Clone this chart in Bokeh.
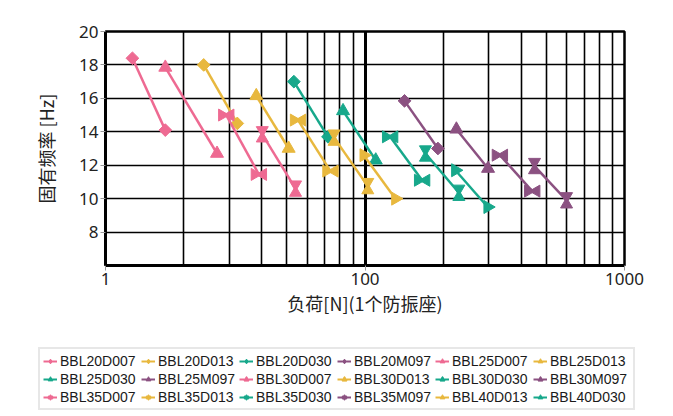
import math
from bokeh.plotting import figure
from bokeh.layouts import column
from bokeh.models import FixedTicker, Legend, LegendItem, Range1d
from bokeh.embed import file_html
from bokeh.resources import INLINE

# ---------------- data ----------------
names = ["BBL20D007", "BBL20D013", "BBL20D030", "BBL20M097",
         "BBL25D007", "BBL25D013", "BBL25D030", "BBL25M097",
         "BBL30D007", "BBL30D013", "BBL30D030", "BBL30M097",
         "BBL35D007", "BBL35D013", "BBL35D030", "BBL35M097",
         "BBL40D013", "BBL40D030"]
load_start = [12.7, 23.9, 53.2, 142.0,
              17.0, 38.1, 82.3, 225.0,
              29.2, 55.2, 125.0, 331.0,
              40.2, 76.0, 171.0, 450.0,
              98.9, 223.0]
load_end = [17.0, 32.2, 72.0, 191.0,
            26.9, 50.8, 110.0, 298.0,
            39.0, 73.6, 166.0, 441.0,
            54.0, 102.5, 230.0, 598.0,
            131.0, 297.0]
freq_start = [18.4, 18.0, 17.0, 15.85,
              17.85, 16.15, 15.25, 14.15,
              15.0, 14.7, 13.7, 12.6,
              13.85, 13.65, 12.7, 11.95,
              12.6, 11.7]
freq_end = [14.1, 14.5, 13.7, 13.0,
            12.7, 13.0, 12.3, 11.8,
            11.45, 11.65, 11.1, 10.45,
            10.6, 10.75, 10.35, 9.9,
            10.0, 9.5]
x_ticks = [10, 100, 1000]
x_tick_labels = ["1", "100", "1000"]
x_minor = [20, 30, 40, 50, 60, 70, 80, 90, 200, 300, 400, 500, 600, 700, 800, 900]
y_ticks = [8, 10, 12, 14, 16, 18, 20]

PINK, YELLOW, GREEN, PURPLE = "#EE6A92", "#E8B83E", "#17A88B", "#8B5181"
color_of = {"D007": PINK, "D013": YELLOW, "D030": GREEN, "M097": PURPLE}
shape_of = {"20": "diamond", "25": "triangle", "30": "bowtie", "35": "hourglass", "40": "right"}

# ---------------- geometry ----------------
W, H = 673, 340
LH = 76
BL, BR, BT, BB = 105, 49, 31, 75
FW, FH = W - BL - BR, H - BT - BB
X0, X1, Y0, Y1 = 10, 1000, 6, 20


def shift_x(xs, px):
    f = 10 ** (px * math.log10(X1 / X0) / FW)
    return [v * f for v in xs]


def shift_y(ys, px):
    d = px * (Y1 - Y0) / FH
    return [v + d for v in ys]


def same(vs, px):
    return vs


p = figure(width=W, height=H, x_axis_type="log", output_backend="svg",
           toolbar_location=None, min_border_left=BL, min_border_right=BR,
           min_border_top=BT, min_border_bottom=BB,
           x_range=Range1d(X0, X1), y_range=Range1d(Y0, Y1))
p.frame_align = False
p.background_fill_color = "white"
p.border_fill_color = "white"
p.outline_line_color = "black"
p.outline_line_width = 2.5

# axes
p.xaxis.ticker = FixedTicker(ticks=x_ticks, minor_ticks=x_minor)
p.xaxis.major_label_overrides = {t: l for t, l in zip(x_ticks, x_tick_labels)}
p.yaxis.ticker = FixedTicker(ticks=y_ticks, minor_ticks=[])
for ax in (p.xaxis, p.yaxis):
    ax.axis_line_color = "black"
    ax.axis_line_width = 3
    ax.major_tick_out = 5
    ax.major_tick_in = 0
    ax.major_tick_line_color = "#999999"
    ax.minor_tick_out = 0
    ax.minor_tick_in = 0
    ax.major_label_text_font = "Noto Sans"
    ax.major_label_text_font_size = "17px"
    ax.major_label_text_color = "#222222"
    ax.major_label_standoff = 2
    ax.axis_label_text_font = "Noto Sans CJK SC"
    ax.axis_label_text_font_size = "18px"
    ax.axis_label_text_font_style = "normal"
    ax.axis_label_text_color = "#222222"
p.xaxis.axis_label = "负荷[N](1个防振座)"
p.yaxis.axis_label = "固有频率 [Hz]"
p.xaxis.axis_label_standoff = 2
p.yaxis.axis_label_standoff = 17

# grids
p.xgrid.grid_line_color = "black"
p.xgrid.grid_line_width = 3
p.xgrid.minor_grid_line_color = "black"
p.xgrid.minor_grid_line_width = 1.6
p.ygrid.grid_line_color = "black"
p.ygrid.grid_line_width = 1.6

# legend figure: same glyph styles, sample points placed outside its view
q = figure(width=W, height=LH, output_backend="svg", toolbar_location=None,
           x_axis_location=None, y_axis_location=None,
           min_border=0, x_range=Range1d(0, 1), y_range=Range1d(0, 1))
q.frame_align = False
q.outline_line_color = None
q.grid.visible = False
q.background_fill_color = "white"
q.border_fill_color = "white"


def draw(fig, xs, ys, col, shape, sx, sy, lw, legend_glyph=False):
    s_tri, s_bow, s_dia = 13, 12, 9
    off = 0.35 * s_bow
    rends = [fig.line(xs, ys, line_color=col, line_width=lw)]
    kw = dict(fill_color=col, line_color=col, line_width=1)
    if shape == "diamond":
        if legend_glyph:
            rends.append(fig.scatter(xs, ys, marker="diamond", size=s_dia, **kw))
        else:
            rends.append(fig.scatter(xs, ys, marker="square", size=s_dia,
                                     angle=math.pi / 4, **kw))
    elif shape == "triangle":
        rends.append(fig.scatter(xs, ys, marker="triangle", size=s_tri, **kw))
    elif shape == "right":
        rends.append(fig.scatter(xs, ys, marker="triangle", size=s_tri, angle=-math.pi / 2, **kw))
    elif shape == "bowtie":
        rends.append(fig.scatter(sx(xs, -off), ys, marker="triangle", size=s_bow,
                                 angle=-math.pi / 2, **kw))
        rends.append(fig.scatter(sx(xs, off), ys, marker="triangle", size=s_bow,
                                 angle=math.pi / 2, **kw))
    elif shape == "hourglass":
        rends.append(fig.scatter(xs, sy(ys, off), marker="inverted_triangle", size=s_bow, **kw))
        rends.append(fig.scatter(xs, sy(ys, -off), marker="triangle", size=s_bow, **kw))
    return rends


items = []
for i, name in enumerate(names):
    col = color_of[name[-4:]]
    shape = shape_of[name[3:5]]
    draw(p, [load_start[i], load_end[i]], [freq_start[i], freq_end[i]], col, shape,
         shift_x, shift_y, 2.5)
    proxies = draw(q, [-5, -6], [-5, -6], col, shape, same, same, 2, legend_glyph=True)
    items.append(LegendItem(label=name, renderers=proxies))

legend = Legend(items=items, ncols=6, orientation="horizontal",
                location=(38, 6),
                label_text_font="Liberation Sans", label_text_font_size="14px",
                label_text_color="#1a1a1a",
                glyph_width=14, glyph_height=12, label_standoff=3,
                label_height=17, label_width=80, spacing=1, padding=3, margin=0,
                border_line_color="#d0d0d0", border_line_width=2,
                background_fill_color="white", background_fill_alpha=1)
q.add_layout(legend, "center")

layout = column(p, q, spacing=0)
open("out.html", "w").write(file_html(layout, INLINE))
